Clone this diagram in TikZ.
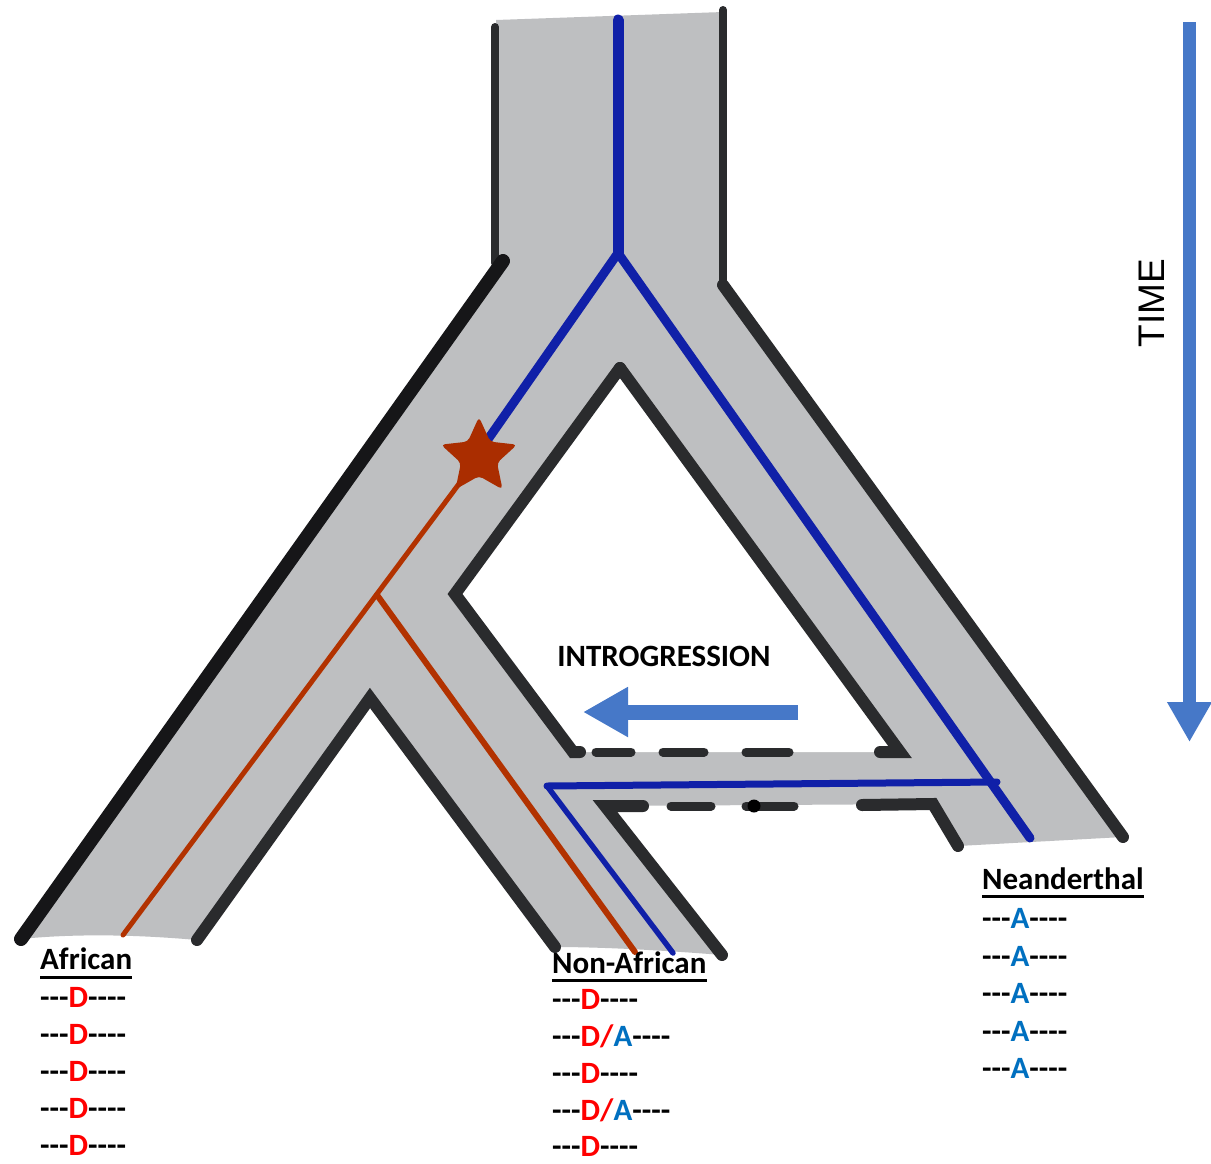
\documentclass[tikz,border=0pt]{standalone}
\usepackage{fontspec}
\setmainfont{Carlito}
\newfontfamily\arialfam{Liberation Sans}
\usetikzlibrary{arrows.meta,calc}
\definecolor{treegray}{RGB}{190,191,193}
\definecolor{edgegray}{RGB}{42,43,45}
\definecolor{edgeblack}{RGB}{22,22,24}
\definecolor{lineblue}{RGB}{16,32,168}
\definecolor{linered}{RGB}{178,50,0}
\definecolor{starred}{RGB}{170,45,0}
\definecolor{arrowblue}{RGB}{70,120,200}
\definecolor{txtred}{RGB}{255,0,0}
\definecolor{txtblue}{RGB}{0,112,192}
\newcommand\mydashA{-{}-{}-}
\newcommand\mydashB{-{}-{}-{}-}
\newcommand\alD{\textcolor{txtred}{D}}
\newcommand\alA{\textcolor{txtblue}{A}}
\newcommand\alDA{\textcolor{txtred}{D/}\textcolor{txtblue}{A}}
\begin{document}
\begin{tikzpicture}[x=1pt,y=-1pt,
  edgeline/.style={draw=edgegray,line width=12pt,line cap=round,line join=miter},
  dashseg/.style={draw=edgegray,line width=9pt,line cap=round},
  blueline/.style={draw=lineblue,line cap=round,line join=round},
  redline/.style={draw=linered,line cap=round},
  bigarrow/.style={draw=arrowblue,line width=#1},
  headtext/.style={anchor=base west,inner sep=0pt,font=\bfseries\fontsize{31}{31}\selectfont},
  seqtext/.style={anchor=base west,inner sep=0pt,font=\bfseries\fontsize{31}{31}\selectfont},
  uline/.style={draw=black,line width=3pt}]
\useasboundingbox (0,0) rectangle (1211,1163);
\fill[white] (0,0) rectangle (1211,1163);

% key points
\coordinate (trTL) at (496,20);
\coordinate (trTR) at (723,12);
\coordinate (trBL) at (496,262);
\coordinate (trBLd) at (503,261);
\coordinate (trBR) at (723,285);
\coordinate (outR) at (1123,837);
\coordinate (neaBL) at (958,846);
\coordinate (h3R) at (933,804);
\coordinate (h3L) at (605,806);
\coordinate (nafBR) at (722,955);
\coordinate (nafBL) at (555,947);
\coordinate (h2top) at (370,698);
\coordinate (afrBR) at (197,940);
\coordinate (afrBL) at (21,939);
\coordinate (triT) at (620,368);
\coordinate (triR) at (900,752);
\coordinate (triBL) at (573,752);
\coordinate (triL) at (455,594);

% gray body
\fill[treegray] (trTL) -- (trTR) -- (trBR) -- (outR) -- (neaBL) -- (h3R) -- (h3L) -- (nafBR)
  .. controls (660,950) and (600,947) .. (nafBL) -- (h2top) -- (afrBR)
  .. controls (130,934) and (70,934) .. (afrBL) -- (trBLd) -- (trBL) -- cycle;
\fill[white] (triT) -- (triR) -- (triBL) -- (triL) -- cycle;

% outlines
\draw[draw=edgegray,line width=8pt,line cap=round] (495,27) -- (495,263);
\draw[draw=edgeblack,line width=14pt,line cap=round] (afrBL) -- (trBLd);
\draw[draw=edgegray,line width=8pt,line cap=round] (723,10) -- (trBR);
\draw[edgeline] (trBR) -- (outR);
\draw[edgeline] (triT) -- (triL) -- (triBL) -- (580,752);
\draw[edgeline] (triT) -- (triR) -- (880,752);
\draw[edgeline] (afrBR) -- (h2top) -- (nafBL);
\draw[edgeline] (nafBR) -- (h3L) -- (643,806);
\draw[edgeline] (862,805) -- (h3R) -- (neaBL);
% dashed bottoms
\draw[dashseg] (596,752) -- (631,752);
\draw[dashseg] (663,752) -- (704,752);
\draw[dashseg] (746,752) -- (789,752);
\draw[dashseg] (671,806) -- (711,806);
\draw[dashseg] (746,806) -- (794,806);
\fill[black] (754,806) circle (6.5);

% lineages
\coordinate (blueTop) at (618,20);
\coordinate (blueSplit) at (618,253);
\coordinate (blueStar) at (484,445);
\coordinate (blueNea) at (1030,838);
\coordinate (introR) at (997,782);
\coordinate (introL) at (547,786);
\coordinate (blueNaf) at (673,953);
\coordinate (star) at (479,457);
\coordinate (redAfr) at (123,935);
\coordinate (redSplit) at (377,595);
\coordinate (redNaf) at (635,952);

\draw[blueline,line width=11pt] (blueTop) -- (blueSplit);
\draw[blueline,line width=9pt] (blueSplit) -- (blueStar);
\draw[blueline,line width=9pt] (blueSplit) -- (blueNea);
\draw[blueline,line width=7pt] (introR) -- (introL);
\draw[blueline,line width=5.5pt] (introL) -- (blueNaf);
\draw[redline,line width=5pt] (star) -- (redAfr);
\draw[redline,line width=6pt] (redSplit) -- (redNaf);

% star
\fill[starred,rounded corners=4pt]
  ($(star)+(-90:40)$) -- ($(star)+(-54:19)$) --
  ($(star)+(-18:40)$) -- ($(star)+(18:19)$) --
  ($(star)+(54:40)$) -- ($(star)+(90:19)$) --
  ($(star)+(126:40)$) -- ($(star)+(162:19)$) --
  ($(star)+(198:40)$) -- ($(star)+(234:19)$) -- cycle;

% arrows
\coordinate (timeTop) at (1189.5,22);
\coordinate (timeTip) at (1189.5,742);
\draw[bigarrow=13pt,-{Triangle[length=40pt,width=42pt]}] (timeTop) -- (timeTip);
\coordinate (intStart) at (798,712);
\coordinate (intTip) at (583,712);
\draw[bigarrow=15pt,-{Triangle[length=45pt,width=47pt]}] (intStart) -- (intTip);

% labels
\node[rotate=90,inner sep=0pt,font=\arialfam\fontsize{37}{37}\selectfont] (time) at (1152,303) {TIME};
\node[inner sep=0pt,font=\bfseries\fontsize{31}{31}\selectfont] (intro) at (664,656) {INTROGRESSION};

% African
\node[headtext] (hafr) at (40,969) {African};
\draw[uline] ($(hafr.base west)+(0,8)$) -- ($(hafr.base east)+(0,8)$);
\node[seqtext] (afr1) at (40,1007) {\mydashA\alD\mydashB};
\node[seqtext] (afr2) at (40,1044) {\mydashA\alD\mydashB};
\node[seqtext] (afr3) at (40,1081) {\mydashA\alD\mydashB};
\node[seqtext] (afr4) at (40,1118) {\mydashA\alD\mydashB};
\node[seqtext] (afr5) at (40,1155) {\mydashA\alD\mydashB};

% Non-African
\node[headtext] (hnaf) at (552,973) {Non-African};
\draw[uline] ($(hnaf.base west)+(0,7)$) -- ($(hnaf.base east)+(0,7)$);
\node[seqtext] (naf1) at (552,1009) {\mydashA\alD\mydashB};
\node[seqtext] (naf2) at (552,1046) {\mydashA\alDA\mydashB};
\node[seqtext] (naf3) at (552,1083) {\mydashA\alD\mydashB};
\node[seqtext] (naf4) at (552,1120) {\mydashA\alDA\mydashB};
\node[seqtext] (naf5) at (552,1156) {\mydashA\alD\mydashB};

% Neanderthal
\node[headtext] (hnea) at (982,889) {Neanderthal};
\draw[uline] ($(hnea.base west)+(0,7)$) -- ($(hnea.base east)+(0,7)$);
\node[seqtext] (nea1) at (982,928) {\mydashA\alA\mydashB};
\node[seqtext] (nea2) at (982,966) {\mydashA\alA\mydashB};
\node[seqtext] (nea3) at (982,1003) {\mydashA\alA\mydashB};
\node[seqtext] (nea4) at (982,1041) {\mydashA\alA\mydashB};
\node[seqtext] (nea5) at (982,1078) {\mydashA\alA\mydashB};
\end{tikzpicture}
\end{document}
